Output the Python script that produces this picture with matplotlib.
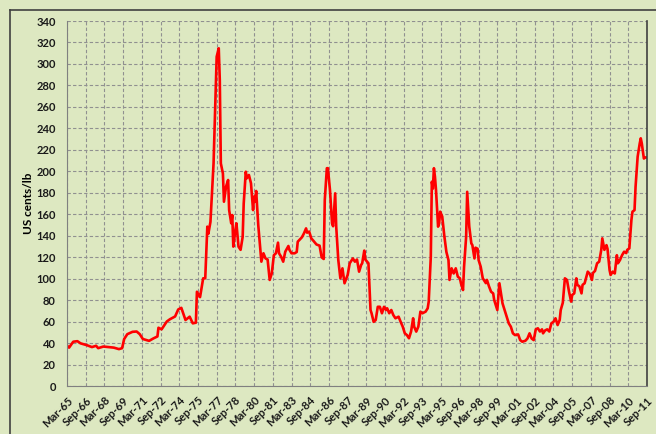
import numpy as np
import matplotlib.pyplot as plt
from matplotlib.lines import Line2D

# month index counted from Mar-65 (0) to Sep-11 (558), values in US cents/lb
months = [0, 2, 6, 10, 13, 19, 24, 28, 30, 35, 45, 50, 53, 55, 58, 63, 67, 70, 73, 79,
          83, 87, 88, 91, 96, 99, 102, 104, 107, 110, 114, 118, 121, 124, 125, 128, 131, 133, 135, 136,
          138, 141, 144, 146, 147, 148, 150, 151, 153, 155, 156, 158, 159, 160, 162, 163, 165, 167, 169, 170,
          172, 173, 175, 177, 179, 180, 181, 182, 184, 186, 187, 189, 191, 193, 195, 197, 199, 201, 203, 204,
          206, 208, 210, 213, 214, 216, 219, 221, 222, 226, 228, 230, 231, 233, 235, 237, 240, 243, 245, 247,
          248, 250, 251, 253, 255, 256, 258, 259, 261, 263, 265, 267, 270, 272, 275, 277, 279, 281, 283, 284,
          286, 287, 290, 292, 293, 295, 297, 299, 301, 303, 305, 307, 308, 310, 312, 314, 316, 319, 321, 323,
          325, 327, 329, 331, 333, 334, 336, 338, 340, 342, 345, 347, 348, 350, 351, 352, 353, 354, 355, 357,
          358, 359, 361, 363, 365, 367, 368, 370, 372, 374, 376, 378, 379, 381, 382, 384, 385, 387, 389, 390,
          392, 393, 395, 396, 398, 400, 401, 403, 404, 406, 408, 410, 411, 413, 414, 416, 418, 419, 421, 422,
          425, 427, 429, 431, 434, 436, 438, 441, 443, 445, 447, 449, 451, 453, 455, 457, 458, 460, 462, 464,
          466, 468, 470, 472, 474, 475, 477, 479, 481, 483, 485, 486, 488, 490, 491, 493, 495, 496, 498, 501,
          503, 505, 506, 508, 510, 512, 514, 515, 517, 519, 520, 522, 523, 525, 527, 529, 530, 532, 534, 536,
          538, 539, 541, 543, 544, 546, 547, 549, 551, 552, 553, 555, 556, 558]
prices = [38, 36, 41.5, 42, 40, 38.3, 36.5, 37.7, 35.5, 37, 36, 34.6, 35.5, 44, 48.5, 50.7, 51, 48.5, 44, 42.3,
          44.5, 46.4, 54.5, 53, 60.3, 62.4, 64, 65, 71.5, 73, 61.7, 64.8, 58.6, 59.2, 88, 83, 100.5, 100.5, 148.6, 142,
          153, 207.5, 306.8, 314.6, 285, 207.5, 198, 171.8, 185.8, 192, 164, 151.7, 159.4, 130, 145.5, 151.7, 130, 127, 139, 170,
          199.7, 193.6, 196.7, 189, 164, 176.5, 172, 181.8, 150, 127, 116, 123.8, 119, 118, 99, 105, 122, 123.8, 133.7, 123.8,
          120.6, 116, 125.3, 130.6, 127, 123.8, 123.8, 125, 134.6, 138.7, 142.4, 147, 143, 144, 137.7, 135.5, 132, 130.9, 120, 118.5,
          173.4, 203, 203, 182.7, 151.7, 149, 179.6, 148.6, 117.5, 100.5, 109.8, 95.9, 103.6, 114.5, 119, 116, 118, 106.7, 113, 114.5,
          126.3, 118, 114.5, 71, 68, 60, 61.7, 74, 74, 68, 74, 71, 72.6, 68, 71, 66.2, 63.3, 64.8, 60, 55.5,
          49.3, 47.7, 44.7, 50.9, 63.3, 55.5, 50.9, 55.5, 69.5, 68, 69.5, 72.6, 78.8, 120.6, 190.4, 184, 203, 195, 182.7, 148.6,
          151.7, 162.5, 158, 140, 125, 117.5, 99, 109.8, 105, 109.8, 102, 100.5, 96, 89.6, 111.3, 139.2, 181, 148.6, 133, 131.4,
          119, 129, 128, 117.5, 111.3, 100.5, 99, 96, 99, 93, 88, 86.5, 80.3, 74, 71, 95.9, 83.4, 77.2, 71, 68,
          58.6, 55.5, 49.3, 47.7, 48.3, 43, 41.5, 42.4, 44.5, 49.3, 44.5, 43, 53, 54, 51, 53, 49.3, 52, 53, 51,
          58.6, 60, 63.3, 57, 61.7, 71, 77.8, 100.5, 99, 88, 78.8, 85, 86.5, 100.5, 94.4, 93, 86.5, 94.4, 95.9, 106.7,
          104.6, 99, 105.5, 107.4, 114.5, 116, 127, 137.7, 127, 131.4, 128, 108.2, 103.6, 106.7, 105, 122, 114.5, 117.5, 122, 125.3,
          124, 127, 128.4, 154.8, 162.5, 164, 185.8, 213.7, 226, 230.8, 226, 212, 213, 213]

tick_labels = ['Mar-65', 'Sep-66', 'Mar-68', 'Sep-69', 'Mar-71', 'Sep-72', 'Mar-74', 'Sep-75',
               'Mar-77', 'Sep-78', 'Mar-80', 'Sep-81', 'Mar-83', 'Sep-84', 'Mar-86', 'Sep-87',
               'Mar-89', 'Sep-90', 'Mar-92', 'Sep-93', 'Mar-95', 'Sep-96', 'Mar-98', 'Sep-99',
               'Mar-01', 'Sep-02', 'Mar-04', 'Sep-05', 'Mar-07', 'Sep-08', 'Mar-10', 'Sep-11']

bg = '#DDE8C1'
plt.rcParams['font.family'] = ['Lato', 'DejaVu Sans']

fig = plt.figure(figsize=(6.56, 4.34), dpi=100, facecolor=bg)
ax = fig.add_axes([67 / 656, 1 - 386.3 / 434, 580 / 656, 365.3 / 434], facecolor=bg)

ax.plot(months, prices, color='#FF0000', lw=1.9, solid_joinstyle='round')

ax.set_xlim(0, 558)
ax.set_ylim(0, 340)
ax.set_yticks(np.arange(0, 341, 20))
ax.set_xticks(np.arange(0, 559, 18))
ax.set_xticklabels(tick_labels, rotation=45, ha='right', va='top', rotation_mode='anchor')

ax.tick_params(axis='both', length=0, labelsize=8, colors='#1a1a1a')
ax.tick_params(axis='y', pad=8)
ax.tick_params(axis='x', pad=6)
for lab in ax.get_xticklabels() + ax.get_yticklabels():
    lab.set_fontweight('bold')

ax.grid(True, color='#909090', linestyle=(0, (3, 2)), lw=0.8)
ax.set_axisbelow(True)

ax.spines['top'].set_visible(False)
ax.spines['left'].set_color('#808080')
ax.spines['bottom'].set_color('#808080')
ax.spines['right'].set_color('#404040')
ax.spines['right'].set_linewidth(1.2)

ax.set_ylabel('US cents/lb', fontsize=8.5, fontweight='bold', labelpad=2)

# outer chart frame (runs off the right and bottom edges)
fig.add_artist(Line2D([10 / 656, 1], [1 - 10 / 434, 1 - 10 / 434], color='#404040', lw=1.2))
fig.add_artist(Line2D([10 / 656, 10 / 656], [0, 1 - 10 / 434], color='#404040', lw=1.2))

fig.savefig('out.png', dpi=100, facecolor=bg)
